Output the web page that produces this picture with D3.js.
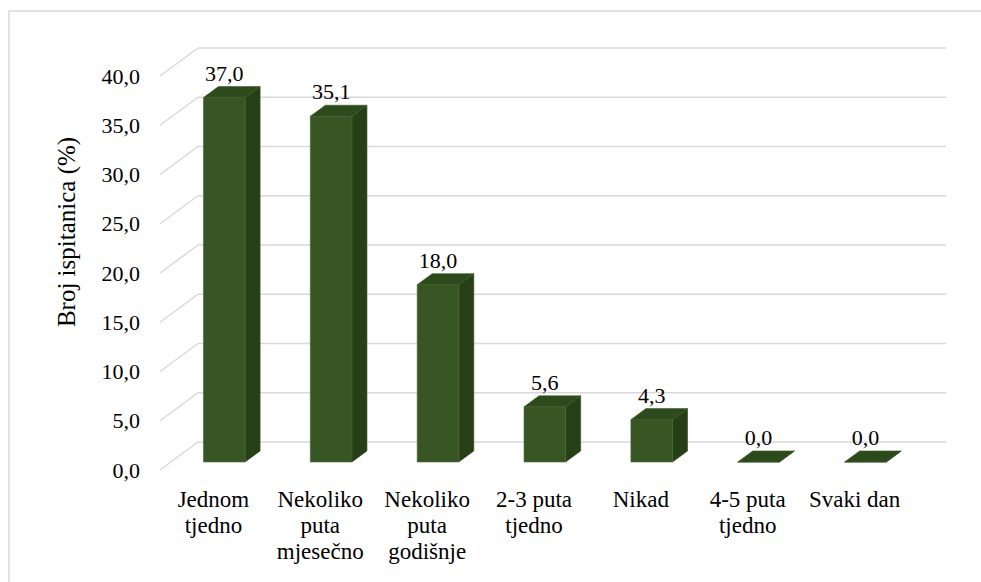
<!DOCTYPE html>
<html><head><meta charset="utf-8">
<script src="https://cdn.jsdelivr.net/npm/d3@7"></script>
<style>body{margin:0;background:#fff}svg text{font-family:'Liberation Serif','DejaVu Serif','Times New Roman',Times,serif;fill:#000}</style>
</head><body>
<script>
const categories = [["Jednom","tjedno"],["Nekoliko","puta","mjesečno"],["Nekoliko","puta","godišnje"],["2-3 puta","tjedno"],["Nikad"],["4-5 puta","tjedno"],["Svaki dan"]];
const values = [37.0, 35.1, 18.0, 5.6, 4.3, 0.0, 0.0];
const tickValues = [0,5,10,15,20,25,30,35,40];
const yTitle = "Broj ispitanica (%)";

const W = 981, H = 582;
const FONT = "'Liberation Serif','DejaVu Serif','Times New Roman',Times,serif";
const svg = d3.select("body").append("svg").attr("width", W).attr("height", H)
  .attr("font-family", FONT);
svg.append("rect").attr("x",9).attr("y",11).attr("width",990).attr("height",600)
  .attr("fill","#fff").attr("stroke","#d9d9d9").attr("stroke-width",1.5);

const loc = d3.formatLocale({decimal: ",", thousands: ".", grouping: [3], currency: ["", ""]});
const fmt = loc.format(".1f");

const depthX = 38, depthY = 28;
const keys = categories.map((c,i)=>i);
const x = d3.scaleBand().domain(keys).range([198, 946]).paddingInner(0.61).paddingOuter(0.305);
const y = d3.scaleLinear().domain([0, 40]).range([442, 48]);
const proj = (X, Y, d) => [X - depthX*d, Y + depthY*d];

const grid = svg.append("g").attr("stroke","#d9d9d9").attr("stroke-width",1.5).attr("fill","none");
tickValues.forEach(v => {
  grid.append("line").attr("x1",198).attr("x2",946).attr("y1",y(v)).attr("y2",y(v));
  const p = proj(198, y(v), 1);
  grid.append("line").attr("x1",p[0]).attr("y1",p[1]).attr("x2",198).attr("y2",y(v));
});

const yFront = d3.scaleLinear().domain([0,40]).range([442+depthY, 48+depthY]);
const ax = svg.append("g").attr("transform",`translate(${198-depthX},0)`)
  .call(d3.axisLeft(yFront).tickValues(tickValues).tickSize(0).tickPadding(20).tickFormat(fmt));
ax.attr("font-family", FONT);
ax.select(".domain").remove();
ax.selectAll("text").attr("font-size",22).attr("fill","#000");

const dF = 0.714, dB = 0.32;
const bars = svg.append("g");
values.forEach((v,i) => {
  const x0 = x(i), x1 = x(i) + x.bandwidth();
  const yt = y(v), yb = y(0);
  const P = (X,Y,d) => proj(X,Y,d).join(",");
  bars.append("polygon").attr("points",[P(x1,yb,dF),P(x1,yb,dB),P(x1,yt,dB),P(x1,yt,dF)].join(" "))
    .attr("fill","#263f16").attr("stroke","#334f20").attr("stroke-width",0.6);
  bars.append("polygon").attr("points",[P(x0,yb,dF),P(x1,yb,dF),P(x1,yt,dF),P(x0,yt,dF)].join(" "))
    .attr("fill","#375623").attr("stroke","#4a6a36").attr("stroke-width",0.6);
  bars.append("polygon").attr("points",[P(x0,yt,dF),P(x1,yt,dF),P(x1,yt,dB),P(x0,yt,dB)].join(" "))
    .attr("fill","#2c4a1b").attr("stroke","#3a5a27").attr("stroke-width",0.6);
  const c = proj(x0 + x.bandwidth()/2, yt, dF);
  const tb = proj(0, yt, dB);
  svg.append("text").attr("x",c[0]).attr("y",tb[1]-6)
    .attr("text-anchor","middle").attr("font-size",22).text(fmt(v));
});

categories.forEach((lines,i) => {
  const c = proj(x(i) + x.bandwidth()/2, y(0), 1);
  const t = svg.append("text").attr("text-anchor","middle").attr("font-size",23);
  lines.forEach((l,j) => t.append("tspan").attr("x",c[0]).attr("y", 507 + j*26).text(l));
});

svg.append("text").attr("transform","translate(75,232) rotate(-90)")
  .attr("text-anchor","middle").attr("font-size",25).text(yTitle);
</script>
</body></html>
